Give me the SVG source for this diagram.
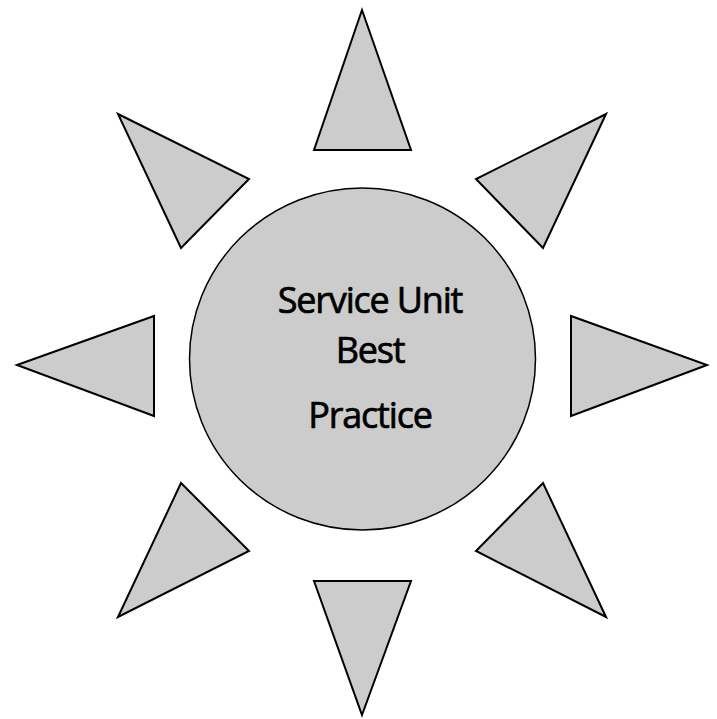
<svg xmlns="http://www.w3.org/2000/svg" width="717" height="719" viewBox="0 0 717 719">
<style>
.ray{fill:#cccccc;stroke:#000;stroke-width:2;stroke-linejoin:miter}
.hub{fill:#cccccc;stroke:#000;stroke-width:1.5}
.lbl{font-family:"Open Sans","DejaVu Sans",sans-serif;font-size:36px;fill:#000;stroke:#000;stroke-width:0.7px;text-anchor:middle;letter-spacing:-1.2px}
</style>
<rect width="717" height="719" fill="#fff"/>
<g id="connectors"></g>
<g id="ray-n"><polygon class="ray" points="362,10 411,150 314,150"/></g>
<g id="ray-ne"><polygon class="ray" points="606,114 543,248 476,179"/></g>
<g id="ray-e"><polygon class="ray" points="707,365 571,416 571,316"/></g>
<g id="ray-se"><polygon class="ray" points="606,617 543,483 476,551"/></g>
<g id="ray-s"><polygon class="ray" points="362,715 411,581 314,581"/></g>
<g id="ray-sw"><polygon class="ray" points="118,617 181,483 249,551"/></g>
<g id="ray-w"><polygon class="ray" points="17,365 154,316 154,416"/></g>
<g id="ray-nw"><polygon class="ray" points="118,114 249,179 181,248"/></g>
<g id="hub">
<ellipse class="hub" cx="362.5" cy="359" rx="173" ry="171"/>
<text class="lbl" x="370" y="313">Service Unit</text>
<text class="lbl" x="370" y="363">Best</text>
<text class="lbl" x="370" y="428">Practice</text>
</g>
</svg>
